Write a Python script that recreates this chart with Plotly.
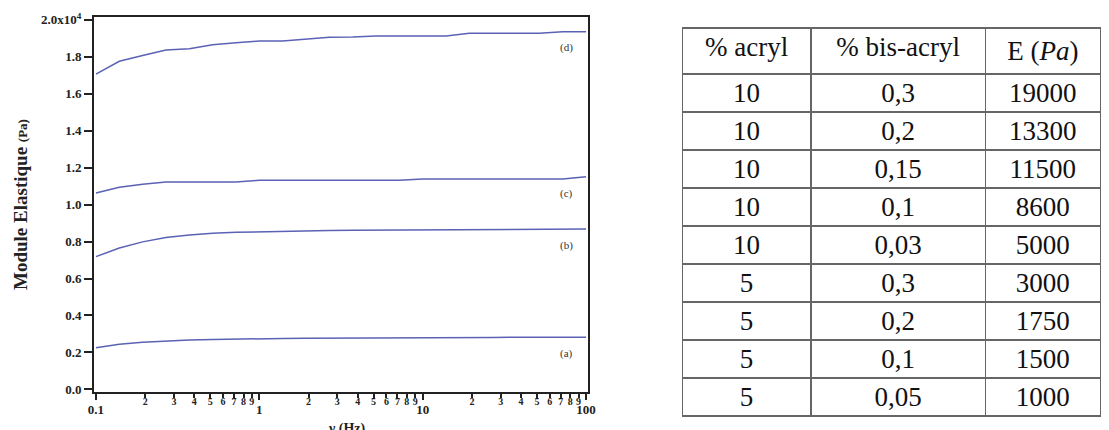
import plotly.graph_objects as go

# ---- data ----
freq_hz = [0.1, 0.139, 0.193, 0.268, 0.373, 0.518, 0.720, 1.0, 1.39, 1.93, 2.68,
           3.73, 5.18, 7.20, 10.0, 13.9, 19.3, 26.8, 37.3, 51.8, 72.0, 100.0]
mod_a = [2260, 2450, 2560, 2630, 2670, 2700, 2730, 2750, 2760, 2770, 2780,
         2790, 2790, 2800, 2800, 2805, 2810, 2815, 2820, 2825, 2830, 2830]
mod_b = [7180, 7650, 7980, 8210, 8350, 8450, 8500, 8530, 8550, 8570, 8590,
         8610, 8620, 8630, 8640, 8645, 8650, 8655, 8660, 8665, 8670, 8670]
mod_c = [10620, 10930, 11100, 11220, 11220, 11220, 11220, 11310, 11310, 11310, 11310,
         11310, 11310, 11310, 11380, 11380, 11380, 11380, 11380, 11380, 11380, 11500]
mod_d = [17050, 17740, 18050, 18350, 18420, 18640, 18740, 18840, 18840, 18940, 19040,
         19050, 19110, 19110, 19110, 19110, 19250, 19250, 19250, 19250, 19340, 19340]
curve_labels = ["(a)", "(b)", "(c)", "(d)"]
label_y = [1920, 7760, 10570, 18510]

ytick_vals = [0, 2000, 4000, 6000, 8000, 10000, 12000, 14000, 16000, 18000, 20000]
ytick_text = ["0.0", "0.2", "0.4", "0.6", "0.8", "1.0", "1.2", "1.4", "1.6", "1.8",
              "2.0x10<sup>4</sup>"]
xmajor_vals = [0.1, 1, 10, 100]
xmajor_text = ["0.1", "1", "10", "100"]
xminor_vals = [0.2, 0.3, 0.4, 0.5, 0.6, 0.7, 0.8, 0.9,
               2, 3, 4, 5, 6, 7, 8, 9,
               20, 30, 40, 50, 60, 70, 80, 90]
xminor_text = ["2", "3", "4", "5", "6", "7", "8", "9"] * 3

tbl_header = ["% acryl", "% bis-acryl", "E (<i>Pa</i>)"]
tbl_acryl = ["10", "10", "10", "10", "10", "5", "5", "5", "5"]
tbl_bis = ["0,3", "0,2", "0,15", "0,1", "0,03", "0,3", "0,2", "0,1", "0,05"]
tbl_E = ["19000", "13300", "11500", "8600", "5000", "3000", "1750", "1500", "1000"]

# ---- figure ----
LINE = "#5a62b5"
FONT = "Liberation Serif, Times New Roman, serif"
AX = "#222222"

fig = go.Figure()
for ys in [mod_a, mod_b, mod_c, mod_d]:
    fig.add_trace(go.Scatter(x=freq_hz, y=ys, mode="lines",
                             line=dict(color=LINE, width=1.5),
                             showlegend=False, xaxis="x", yaxis="y"))

# dummy trace on the major-tick axis
fig.add_trace(go.Scatter(x=[freq_hz[0]], y=[mod_a[0]], mode="lines",
                         line=dict(width=0), showlegend=False, hoverinfo="skip",
                         xaxis="x2", yaxis="y"))

fig.add_trace(go.Table(
    domain=dict(x=[0.5842, 1.0], y=[0.0, 0.9727]),
    columnwidth=[132, 179, 118],
    header=dict(values=tbl_header, height=38, align="center",
                fill=dict(color="white"), line=dict(color="#666666", width=1.5),
                font=dict(family=FONT, size=27, color="#111111")),
    cells=dict(values=[tbl_acryl, tbl_bis, tbl_E], height=38, align="center",
               fill=dict(color="white"), line=dict(color="#666666", width=1.5),
               font=dict(family=FONT, size=27, color="#111111")),
))

xrange_log = [-1.012, 2.012]
fig.update_layout(
    width=1101, height=422,
    margin=dict(l=86, r=0, t=9, b=10),
    paper_bgcolor="white", plot_bgcolor="white",
    font=dict(family=FONT, color=AX),
    xaxis=dict(type="log", range=xrange_log, domain=[0, 0.4906], anchor="y",
               tickmode="array", tickvals=xminor_vals, ticktext=xminor_text,
               ticks="outside", ticklen=4, tickwidth=1.5, tickcolor=AX,
               ticklabelstandoff=-5,
               tickfont=dict(family=FONT, size=10, color=AX, weight="bold"),
               showline=True, linecolor=AX, linewidth=2, mirror=True,
               showgrid=False, zeroline=False),
    xaxis2=dict(type="log", range=xrange_log, overlaying="x", anchor="y", side="bottom",
                tickmode="array", tickvals=xmajor_vals, ticktext=xmajor_text,
                ticks="outside", ticklen=7, tickwidth=1.5, tickcolor=AX,
                ticklabelstandoff=-2,
                tickfont=dict(family=FONT, size=13, color=AX, weight="bold"),
                showline=False, showgrid=False, zeroline=False),
    yaxis=dict(range=[-135, 20135], domain=[0.0695, 1.0], anchor="x",
               tickmode="array", tickvals=ytick_vals, ticktext=ytick_text,
               ticks="outside", ticklen=8, tickwidth=1.5, tickcolor=AX,
               tickfont=dict(family=FONT, size=13, color=AX, weight="bold"),
               showline=True, linecolor=AX, linewidth=2, mirror=True,
               showgrid=False, zeroline=False),
)

for lab, yv in zip(curve_labels, label_y):
    fig.add_annotation(x=1.878, y=yv, xref="x", yref="y", text=lab, showarrow=False,
                       font=dict(family=FONT, size=11, color="#333333"))

fig.add_annotation(x=0.251, y=0.003, xref="paper", yref="paper",
                   xanchor="center", yanchor="top",
                   text="ν (Hz)", showarrow=False,
                   font=dict(family=FONT, size=14, color=AX, weight="bold"))
fig.add_annotation(x=-0.0729, y=0.535, xref="paper", yref="paper", textangle=-90,
                   xanchor="center", yanchor="middle",
                   text="Module Elastique <span style='font-size:13px'>(Pa)</span>",
                   showarrow=False,
                   font=dict(family=FONT, size=19, color=AX, weight="bold"))

fig.write_html("out.html")
